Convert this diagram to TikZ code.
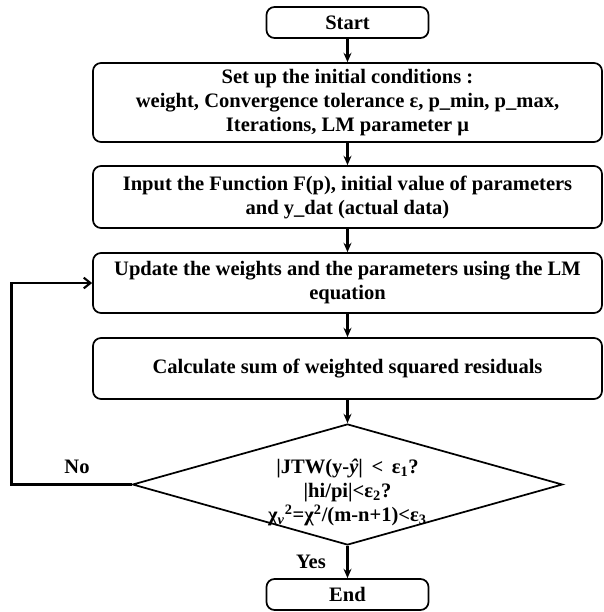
\documentclass[tikz,border=0pt]{standalone}
\usepackage{fontspec}
\setmainfont{Liberation Serif}
\usetikzlibrary{positioning, shapes.geometric, arrows.meta}

\begin{document}
\begin{tikzpicture}[
  x=0.75pt, y=-0.75pt,
  txt/.style={font=\fontsize{15.4}{18}\selectfont\bfseries},
  box/.style={draw, line width=1.3pt, rounded corners=6pt, fill=white,
              minimum width=381.75pt, align=center, inner sep=2pt, txt},
  term/.style={box, minimum width=121.5pt, minimum height=23.25pt},
  test/.style={draw, line width=1.3pt, diamond, aspect=3.55, inner sep=0pt,
               minimum width=322.5pt, minimum height=90.75pt},
  flow/.style={-{Stealth[length=7pt, width=6pt]}, line width=1.6pt},
  back/.style={-{Straight Barb[length=5pt, width=8pt, line width=1.6pt]}, line width=1.8pt},
]
\useasboundingbox (0,0) rectangle (604,612);

\node[term] (start) at (347.5,22.5) {Start};
\node[box, minimum height=59.25pt] (init) at (347.5,102.5)
  {Set up the initial conditions :\\weight, Convergence tolerance ε, p\_min, p\_max,\\Iterations, LM parameter μ};
\node[box, minimum height=46.5pt] (input) at (347.5,197)
  {Input the Function F(p), initial value of parameters\\and y\_dat (actual data)};
\node[box, minimum height=45pt] (update) at (347.5,283)
  {Update the weights and the parameters using the LM\\equation};
\node[box, minimum height=45.75pt] (calc) at (347.5,368.5)
  {Calculate  sum of weighted squared residuals};
\node[test] (check) at (347.5,484.5) {};
\node[txt, align=center] (checktext) at (347.5,492.5)
  {|JTW(y-\textit{ŷ}| \,<\, ε\textsubscript{1}?\\|hi/pi|<ε\textsubscript{2}?\\χ\textsubscript{\textit{v}}\textsuperscript{2}=χ\textsuperscript{2}/(m-n+1)<ε\textsubscript{3}};
\node[term] (end) at (347.5,594.5) {End};

\node[txt] (no) at (77,467) {No};
\node[txt] (yes) at (311,562) {Yes};

\draw[flow] (start) -- (init);
\draw[flow] (init) -- (input);
\draw[flow] (input) -- (update);
\draw[flow] (update) -- (calc);
\draw[flow] (calc) -- (check);
\draw[flow] (check.south) -- (end);
\draw[back] (check.west) -- ++(-120,0) |- (update.west);
\end{tikzpicture}
\end{document}
